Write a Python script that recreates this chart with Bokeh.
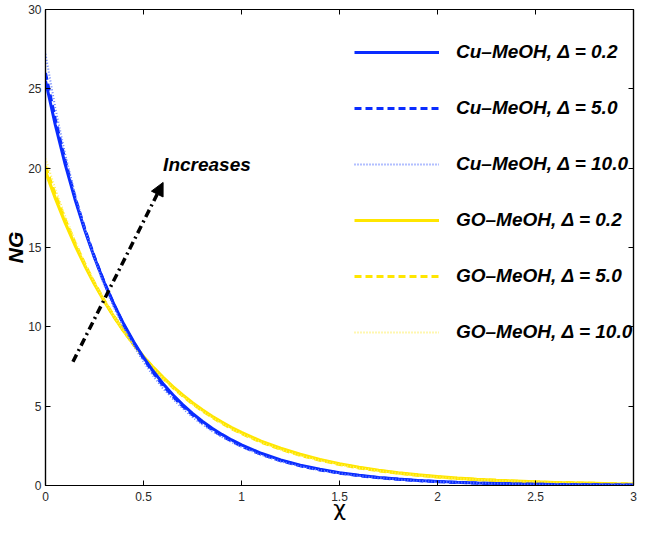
import math
from bokeh.plotting import figure
from bokeh.models import (Range1d, LinearAxis, FixedTicker, Legend, LegendItem,
                          Arrow, NormalHead, Label)
from bokeh.embed import file_html
from bokeh.resources import INLINE

# ---------------- data ----------------
chi = [0.0, 0.05, 0.10, 0.15, 0.20, 0.25, 0.30, 0.35, 0.40, 0.45, 0.50,
       0.55, 0.60, 0.65, 0.70, 0.75, 0.80, 0.85, 0.90, 0.95, 1.00,
       1.1, 1.2, 1.3, 1.4, 1.5, 1.6, 1.7, 1.8, 1.9, 2.0,
       2.1, 2.2, 2.3, 2.4, 2.5, 2.6, 2.7, 2.8, 2.9, 3.0]

cu_d02 = [25.5, 22.73, 20.26, 18.06, 16.10, 14.35, 12.79, 11.40, 10.16, 9.06, 8.07,
          7.20, 6.42, 5.72, 5.10, 4.54, 4.05, 3.61, 3.22, 2.87, 2.56,
          2.03, 1.61, 1.28, 1.02, 0.81, 0.64, 0.51, 0.41, 0.32, 0.26,
          0.20, 0.16, 0.13, 0.10, 0.08, 0.06, 0.05, 0.04, 0.03, 0.03]
cu_d5 = [26.0, 23.1, 20.5, 18.2, 16.2, 14.4, 12.8, 11.4, 10.1, 9.0, 8.0,
         7.1, 6.3, 5.6, 5.0, 4.45, 3.95, 3.52, 3.13, 2.79, 2.48,
         1.97, 1.56, 1.24, 0.98, 0.78, 0.62, 0.49, 0.39, 0.31, 0.24,
         0.19, 0.15, 0.12, 0.10, 0.08, 0.06, 0.05, 0.04, 0.03, 0.02]
cu_d10 = [27.2, 23.8, 20.9, 18.4, 16.2, 14.3, 12.6, 11.2, 9.9, 8.8, 7.8,
          6.9, 6.1, 5.45, 4.85, 4.3, 3.85, 3.43, 3.06, 2.73, 2.43,
          1.92, 1.52, 1.21, 0.96, 0.76, 0.60, 0.48, 0.38, 0.30, 0.24,
          0.19, 0.15, 0.12, 0.09, 0.07, 0.06, 0.05, 0.04, 0.03, 0.02]
go_d02 = [19.8, 18.11, 16.57, 15.16, 13.87, 12.69, 11.61, 10.62, 9.72, 8.89, 8.13,
          7.44, 6.81, 6.23, 5.70, 5.21, 4.77, 4.36, 3.99, 3.65, 3.34,
          2.79, 2.34, 1.96, 1.64, 1.37, 1.15, 0.96, 0.80, 0.67, 0.56,
          0.47, 0.39, 0.33, 0.28, 0.23, 0.19, 0.16, 0.14, 0.11, 0.09]
go_d5 = [20.1, 18.35, 16.75, 15.3, 13.97, 12.75, 11.65, 10.64, 9.72, 8.88, 8.11,
         7.41, 6.77, 6.18, 5.65, 5.16, 4.71, 4.31, 3.93, 3.59, 3.28,
         2.74, 2.29, 1.91, 1.60, 1.33, 1.11, 0.93, 0.78, 0.65, 0.54,
         0.45, 0.38, 0.32, 0.26, 0.22, 0.18, 0.15, 0.13, 0.11, 0.09]
go_d10 = [20.6, 18.7, 17.0, 15.45, 14.05, 12.8, 11.67, 10.65, 9.72, 8.87, 8.09,
          7.38, 6.74, 6.15, 5.62, 5.13, 4.69, 4.28, 3.91, 3.57, 3.26,
          2.72, 2.27, 1.89, 1.58, 1.32, 1.10, 0.92, 0.77, 0.64, 0.53,
          0.44, 0.37, 0.31, 0.26, 0.22, 0.18, 0.15, 0.12, 0.10, 0.08]

series_labels = ["Cu\u2013MeOH, \u0394 = 0.2", "Cu\u2013MeOH, \u0394 = 5.0",
                 "Cu\u2013MeOH, \u0394 = 10.0", "GO\u2013MeOH, \u0394 = 0.2",
                 "GO\u2013MeOH, \u0394 = 5.0", "GO\u2013MeOH, \u0394 = 10.0"]

x_ticks = [0, 0.5, 1, 1.5, 2, 2.5, 3]
x_tick_labels = ["0", "0.5", "1", "1.5", "2", "2.5", "3"]
y_ticks = [0, 5, 10, 15, 20, 25, 30]
y_tick_labels = ["0", "5", "10", "15", "20", "25", "30"]

arrow_start = (0.14, 7.8)
arrow_end = (0.60, 19.1)
note_text = "Increases"
note_pos = (0.60, 20.2)

x_label = "\u03c7"
y_label = "NG"

# ---------------- figure ----------------
FONT = "Liberation Sans"
BLUE = "#0a2cff"
BLUE_LIGHT = "#6680ff"
YELLOW = "#ffe600"
YELLOW_LIGHT = "#fff060"

p = figure(width=637, height=523, output_backend="svg", toolbar_location=None,
           x_range=Range1d(0, 3), y_range=Range1d(0, 30),
           min_border_left=45, min_border_right=4, min_border_top=9,
           min_border_bottom=30)
p.xgrid.visible = False
p.ygrid.visible = False
p.outline_line_color = "black"
p.outline_line_width = 1.2
p.background_fill_color = "white"
p.border_fill_color = "white"


def style_axis(ax, ticks, labels, show_labels=True):
    ax.ticker = FixedTicker(ticks=ticks)
    ax.axis_line_color = "black"
    ax.axis_line_width = 1.2
    ax.major_tick_in = 5
    ax.major_tick_out = 0
    ax.major_tick_line_color = "black"
    ax.minor_tick_line_color = None
    if show_labels:
        ax.major_label_overrides = {t: l for t, l in zip(ticks, labels)}
        ax.major_label_text_font = FONT
        ax.major_label_text_color = "#2a2a2a"
        ax.major_label_text_font_size = "12px"
    else:
        ax.major_label_overrides = {t: "" for t in ticks}
        ax.major_label_text_color = None
        ax.major_label_text_font_size = "1px"
        ax.major_label_standoff = 0


style_axis(p.xaxis[0], x_ticks, x_tick_labels)
p.xaxis[0].major_label_standoff = 6
p.xaxis[0].axis_label = x_label
p.xaxis[0].axis_label_standoff = -8
p.xaxis[0].axis_label_text_font = "DejaVu Sans"
p.xaxis[0].axis_label_text_font_style = "normal"
p.xaxis[0].axis_label_text_font_size = "22px"
p.xaxis[0].axis_label_text_color = "black"

style_axis(p.yaxis[0], y_ticks, y_tick_labels)
p.yaxis[0].major_label_standoff = 4
p.yaxis[0].axis_label = y_label
p.yaxis[0].axis_label_standoff = -2
p.yaxis[0].axis_label_text_font = FONT
p.yaxis[0].axis_label_text_font_style = "bold italic"
p.yaxis[0].axis_label_text_font_size = "21px"
p.yaxis[0].axis_label_text_color = "black"

top_ax = LinearAxis()
style_axis(top_ax, x_ticks, x_tick_labels, show_labels=False)
p.add_layout(top_ax, "above")
right_ax = LinearAxis()
style_axis(right_ax, y_ticks, y_tick_labels, show_labels=False)
p.add_layout(right_ax, "right")

# ---------------- curves ----------------
r_go1 = p.line(chi, go_d02, line_color=YELLOW, line_width=3.2)
r_go2 = p.line(chi, go_d5, line_color=YELLOW, line_width=3.2, line_dash="7 4")
r_go3 = p.line(chi, go_d10, line_color=YELLOW_LIGHT, line_width=2, line_dash="1 2")
r_cu1 = p.line(chi, cu_d02, line_color=BLUE, line_width=3.0)
r_cu2 = p.line(chi, cu_d5, line_color=BLUE, line_width=3.0, line_dash="7 4")
r_cu3 = p.line(chi, cu_d10, line_color=BLUE_LIGHT, line_width=2, line_dash="1 2")

renderers = [r_cu1, r_cu2, r_cu3, r_go1, r_go2, r_go3]
legend = Legend(items=[LegendItem(label=lab, renderers=[r])
                       for lab, r in zip(series_labels, renderers)],
                location=(309, 141), padding=0, margin=0, spacing=32,
                glyph_width=85, glyph_height=24, label_height=24,
                label_standoff=17, border_line_alpha=0, background_fill_alpha=0,
                label_text_font=FONT, label_text_font_style="bold italic",
                label_text_font_size="19px", label_text_color="black")
p.add_layout(legend, "center")

# ---------------- annotations ----------------
p.add_layout(Arrow(end=NormalHead(size=13, fill_color="black", line_color="black"),
                   x_start=arrow_start[0], y_start=arrow_start[1],
                   x_end=arrow_end[0], y_end=arrow_end[1],
                   line_color="black", line_width=3.5, line_dash="8 4 2 4"))
p.add_layout(Label(x=note_pos[0], y=note_pos[1], text=note_text,
                   text_font=FONT, text_font_style="bold italic",
                   text_font_size="19px", text_align="left",
                   text_baseline="middle", text_color="black"))

open("out.html", "w").write(file_html(p, INLINE))
